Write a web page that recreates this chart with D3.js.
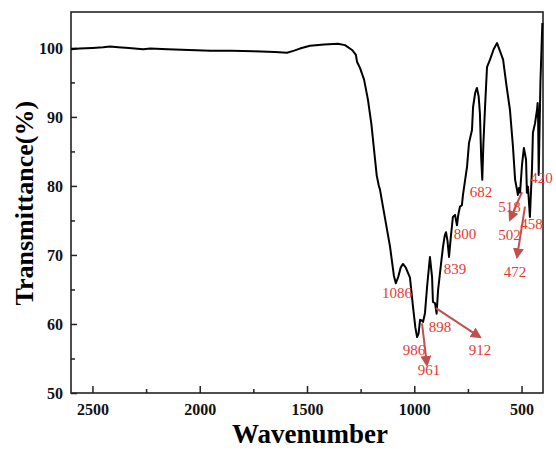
<!DOCTYPE html>
<html>
<head>
<meta charset="utf-8">
<script src="https://cdn.jsdelivr.net/npm/d3@7"></script>
<style>
  body { margin: 0; background: #fff; }
  svg { display: block; }
</style>
</head>
<body>
<div id="chart"></div>
<script>
// spectrum: wavenumber (cm-1) and transmittance (%)
const wavenumber = [2600, 2560, 2500, 2450, 2418, 2380, 2330, 2264, 2230, 2150, 2050, 1950, 1850, 1750, 1650, 1593,
  1560, 1533, 1486, 1420, 1356, 1323, 1290, 1272, 1267, 1253, 1234, 1216, 1200, 1190, 1175, 1165, 1160, 1146,
  1113, 1095, 1086, 1075, 1063, 1053, 1040, 1020, 1006, 995, 987, 980, 973, 965, 959, 950, 940, 927, 917, 913,
  903, 896, 889, 875, 866, 858, 852, 845, 838, 830, 820, 810, 801, 795, 787, 778, 773, 754, 745, 731, 726, 716,
  708, 700, 694, 688, 683, 678, 670, 661, 647, 630, 614, 600, 586, 570, 554, 540, 530, 522, 517, 512, 507, 498,
  489, 479, 475, 470, 461, 451, 447, 437, 428, 425, 423, 420, 412, 403];
const transmittance = [99.8, 99.9, 100.0, 100.1, 100.2, 100.1, 100.0, 99.8, 99.9, 99.8, 99.7, 99.6, 99.6, 99.5, 99.4, 99.3,
  99.6, 99.9, 100.3, 100.5, 100.6, 100.4, 99.7, 99.0, 98.0, 97.1, 95.4, 92.5, 89.0, 86.0, 81.5, 80.0, 79.5, 77.0,
  71.2, 67.0, 65.9, 66.8, 68.2, 68.7, 68.2, 66.7, 62.5, 59.5, 58.1, 58.6, 60.6, 60.5, 60.3, 61.6, 65.5, 69.7, 66.8, 63.2,
  63.0, 61.5, 64.9, 68.8, 71.2, 72.8, 73.3, 72.0, 69.7, 72.5, 75.5, 75.8, 74.3, 75.8, 77.0, 77.2, 78.7, 82.8, 86.2, 88.1, 91.4, 93.5,
  94.2, 93.0, 90.5, 84.0, 80.9, 86.0, 91.5, 97.2, 98.3, 99.8, 100.7, 99.5, 98.3, 94.5, 91.0, 85.7, 80.9, 79.6, 78.7, 79.7, 79.0, 83.0,
  85.5, 83.8, 79.0, 79.9, 75.5, 82.8, 87.7, 89.1, 91.0, 92.0, 90.5, 81.6, 95.0, 103.6];

const xTicks = [2500, 2000, 1500, 1000, 500];
const xMinor = [2250, 1750, 1250, 750];
const yTicks = [50, 60, 70, 80, 90, 100];
const yMinor = [55, 65, 75, 85, 95];

// peak labels (text, wavenumber, transmittance of label)
const peakText = ["1086", "986", "961", "898", "912", "839", "800", "682", "518", "502", "458", "472", "420"];
const peakX = [1080, 1001, 931, 880, 694, 810, 764, 689, 556, 556, 454, 531, 407];
const peakY = [63.8, 55.5, 52.6, 58.8, 55.5, 67.2, 72.3, 78.4, 76.2, 72.2, 73.8, 66.8, 80.4];

// arrows: from (x1,y1) to (x2,y2) in data units
const arrowX1 = [964, 899, 498, 484];
const arrowY1 = [60.1, 62.3, 79.1, 77.0];
const arrowX2 = [941, 694, 554, 521];
const arrowY2 = [54.1, 58.1, 75.1, 69.7];

const W = 556, H = 461;
var margin = { top: 12, right: 13, bottom: 68, left: 71 },
  width = W - margin.left - margin.right,
  height = H - margin.top - margin.bottom;

const svg = d3.select("#chart").append("svg")
  .attr("width", W)
  .attr("height", H);

const defs = svg.append("defs");
defs.append("marker")
  .attr("id", "head")
  .attr("viewBox", "0 0 10 10")
  .attr("refX", 8).attr("refY", 5)
  .attr("markerWidth", 5.5).attr("markerHeight", 5.5)
  .attr("orient", "auto")
  .append("path")
  .attr("d", "M0,0 L10,5 L0,10 Z")
  .attr("fill", "#c0504d");

const g = svg.append("g")
  .attr("transform", "translate(" + margin.left + "," + margin.top + ")");

const x = d3.scaleLinear().domain([2600, 400]).range([0, width]);
const y = d3.scaleLinear().domain([50, 105.2]).range([height, 0]);

const tickFont = "bold 16px 'Liberation Serif', 'Times New Roman', serif";

// bottom axis, ticks pointing in
const xAxis = g.append("g")
  .attr("transform", "translate(0," + height + ")")
  .call(d3.axisBottom(x).tickValues(xTicks).tickFormat(d3.format("d"))
    .tickSizeInner(-7).tickSizeOuter(0).tickPadding(11));
xAxis.select(".domain").remove();
xAxis.selectAll("line").attr("stroke", "#222").attr("stroke-width", 1.5);
xAxis.selectAll("text").style("font", tickFont).attr("fill", "#111");

g.append("g")
  .attr("transform", "translate(0," + height + ")")
  .call(d3.axisBottom(x).tickValues(xMinor).tickSize(-4).tickFormat(""))
  .call(a => a.select(".domain").remove())
  .selectAll("line").attr("stroke", "#222").attr("stroke-width", 1.5);

const yAxis = g.append("g")
  .call(d3.axisLeft(y).tickValues(yTicks).tickSizeInner(-6).tickSizeOuter(0).tickPadding(8));
yAxis.select(".domain").remove();
yAxis.selectAll("line").attr("stroke", "#222").attr("stroke-width", 1.5);
yAxis.selectAll("text").style("font", tickFont).attr("fill", "#111");

g.append("g")
  .call(d3.axisLeft(y).tickValues(yMinor).tickSize(-4).tickFormat(""))
  .call(a => a.select(".domain").remove())
  .selectAll("line").attr("stroke", "#222").attr("stroke-width", 1.5);

// frame
g.append("rect")
  .attr("width", width)
  .attr("height", height)
  .attr("fill", "none")
  .attr("stroke", "#222")
  .attr("stroke-width", 1.6);

// spectrum
const line = d3.line()
  .x(d => x(d[0]))
  .y(d => y(d[1]));

g.append("path")
  .datum(d3.zip(wavenumber, transmittance))
  .attr("fill", "none")
  .attr("stroke", "#000")
  .attr("stroke-width", 2)
  .attr("stroke-linejoin", "round")
  .attr("d", line);

// arrows
g.append("g").selectAll("line")
  .data(d3.range(arrowX1.length))
  .join("line")
  .attr("x1", i => x(arrowX1[i]))
  .attr("y1", i => y(arrowY1[i]))
  .attr("x2", i => x(arrowX2[i]))
  .attr("y2", i => y(arrowY2[i]))
  .attr("stroke", "#c0504d")
  .attr("stroke-width", 2)
  .attr("marker-end", "url(#head)");

// peak labels
g.append("g").selectAll("text")
  .data(peakText)
  .join("text")
  .attr("x", (d, i) => x(peakX[i]))
  .attr("y", (d, i) => y(peakY[i]))
  .attr("text-anchor", "middle")
  .attr("fill", "#e53935")
  .style("font", "15px 'Liberation Serif', 'Times New Roman', serif")
  .text(d => d);

// axis titles
svg.append("text")
  .attr("x", margin.left + x(1486))
  .attr("y", 443)
  .attr("text-anchor", "middle")
  .style("font", "bold 27px 'Liberation Serif', 'Times New Roman', serif")
  .text("Wavenumber");

svg.append("text")
  .attr("transform", "translate(33," + (margin.top + y(77.5)) + ") rotate(-90)")
  .attr("text-anchor", "middle")
  .style("font", "bold 26px 'Liberation Serif', 'Times New Roman', serif")
  .text("Transmittance(%)");
</script>
</body>
</html>
